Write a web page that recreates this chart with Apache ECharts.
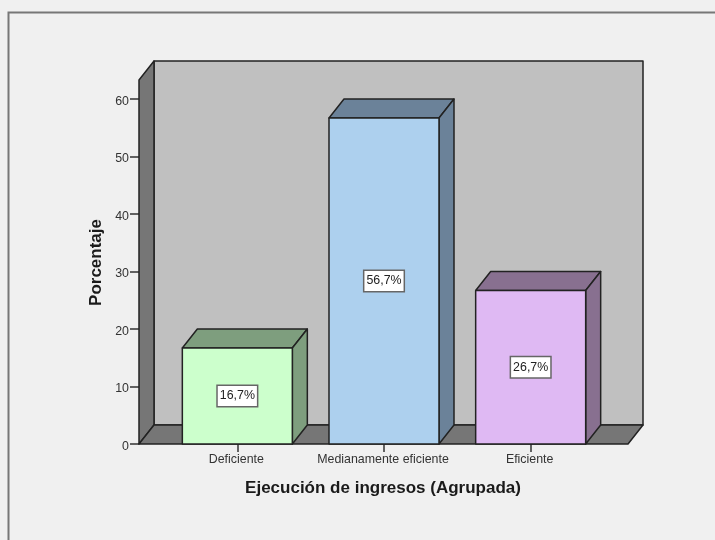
<!DOCTYPE html>
<html>
<head>
<meta charset="utf-8">
<title>Ejecución de ingresos</title>
<script src="https://cdn.jsdelivr.net/npm/echarts@6/dist/echarts.min.js"></script>
<style>
  html, body { margin: 0; padding: 0; background: #f0f0f0; }
  #chart { width: 715px; height: 540px; }
</style>
</head>
<body>
<div id="chart"></div>
<script>
// Porcentaje por nivel de ejecución
const categories = ['Deficiente', 'Medianamente eficiente', 'Eficiente'];
const percentages = [16.7, 56.7, 26.7];
const yTicks = [0, 10, 20, 30, 40, 50, 60];
const frontColors = ['#ccffcc', '#add0ee', '#dfb9f3'];
const shadeColors = ['#7e9e7e', '#6b8299', '#887090'];

// Height of the box around the bars, in percentage units
const boxTop = 63.3;

const depthX = 15;
const depthY = -19;
const outline = '#222222';

const chart = echarts.init(document.getElementById('chart'), null, { renderer: 'canvas' });

const poly = (points, fill) => ({
  type: 'polygon',
  shape: { points },
  style: { fill, stroke: outline, lineWidth: 1.5, lineJoin: 'round' }
});

// Back wall, left wall and floor of the 3D box
function renderBox(params, api) {
  const tl = api.coord([0, boxTop]);
  const bl = api.coord([0, 0]);
  const br = api.coord([1, 0]);
  const shift = (p) => [p[0] + depthX, p[1] + depthY];
  const backTl = shift(tl), backBl = shift(bl), backBr = shift(br);
  const backTr = [backBr[0], backTl[1]];
  return {
    type: 'group',
    children: [
      poly([backTl, backTr, backBr, backBl], '#c0c0c0'),
      poly([tl, backTl, backBl, bl], '#767676'),
      poly([bl, backBl, backBr, br], '#767676')
    ]
  };
}

// Box-shaped bar: top and side faces shaded, front face with the value label
function renderBar(params, api) {
  const i = params.dataIndex;
  const value = api.value(1);
  const center = api.coord([i, value]);
  const base = api.coord([i, 0]);
  const halfWidth = api.size([1, 0])[0] * 0.375;
  const l = center[0] - halfWidth;
  const r = center[0] + halfWidth;
  const t = center[1];
  const b = base[1];
  return {
    type: 'group',
    children: [
      poly([[l, t], [l + depthX, t + depthY], [r + depthX, t + depthY], [r, t]], shadeColors[i]),
      poly([[r, t], [r + depthX, t + depthY], [r + depthX, b + depthY], [r, b]], shadeColors[i]),
      poly([[l, t], [r, t], [r, b], [l, b]], frontColors[i]),
      {
        type: 'text',
        z2: 10,
        x: center[0],
        y: (t + b) / 2,
        style: {
          text: value.toFixed(1).replace('.', ',') + '%',
          fontFamily: 'Liberation Sans',
          fontSize: 12.4,
          fill: '#222222',
          align: 'center',
          verticalAlign: 'middle',
          backgroundColor: '#ffffff',
          borderColor: '#666666',
          borderWidth: 1.5,
          padding: [4, 2, 4, 2]
        }
      }
    ]
  };
}

chart.setOption({
  backgroundColor: '#f0f0f0',
  animation: false,
  graphic: [{
    type: 'rect',
    silent: true,
    shape: { x: 8.5, y: 12.5, width: 740, height: 560 },
    style: { fill: 'transparent', stroke: '#777777', lineWidth: 2 }
  }],
  grid: [
    { left: 139, top: 99, width: 489, height: 345 },
    { left: 164, top: 99, width: 440, height: 345 }
  ],
  xAxis: [{
    gridIndex: 0,
    type: 'value',
    min: 0,
    max: 1,
    show: false
  }, {
    gridIndex: 1,
    type: 'category',
    data: categories,
    boundaryGap: true,
    name: 'Ejecución de ingresos (Agrupada)',
    nameLocation: 'middle',
    nameGap: 36,
    nameTextStyle: { fontFamily: 'Liberation Sans', fontWeight: 'bold', fontSize: 17, color: '#1a1a1a', padding: [0, 2, 0, 0] },
    axisLine: { show: false },
    axisTick: { show: true, alignWithLabel: true, length: 8, lineStyle: { color: '#333333', width: 1.5 } },
    axisLabel: { interval: 0, fontFamily: 'Liberation Sans', fontSize: 12.4, color: '#333333', margin: 10, padding: [0, 2, 0, 0] },
    splitLine: { show: false }
  }],
  yAxis: [{
    gridIndex: 0,
    type: 'value',
    min: yTicks[0],
    max: yTicks[yTicks.length - 1],
    interval: 10,
    name: 'Porcentaje',
    nameLocation: 'middle',
    nameRotate: 90,
    nameGap: 34,
    nameMoveOverlap: false,
    nameTextStyle: { fontFamily: 'Liberation Sans', fontWeight: 'bold', fontSize: 17, color: '#1a1a1a', padding: [0, 0, 0, 18] },
    axisLine: { show: false },
    axisTick: { show: true, length: 9, lineStyle: { color: '#333333', width: 1.5 } },
    axisLabel: { fontFamily: 'Liberation Sans', fontSize: 12.4, color: '#333333', margin: 10, verticalAlign: 'top', lineHeight: 5 },
    splitLine: { show: false }
  }, {
    gridIndex: 1,
    type: 'value',
    min: yTicks[0],
    max: yTicks[yTicks.length - 1],
    show: false
  }],
  series: [{
    type: 'custom',
    name: 'caja',
    xAxisIndex: 0,
    yAxisIndex: 0,
    z: 1,
    silent: true,
    clip: false,
    renderItem: renderBox,
    data: [[0, 0]]
  }, {
    type: 'custom',
    name: 'Porcentaje',
    xAxisIndex: 1,
    yAxisIndex: 1,
    z: 2,
    silent: true,
    clip: false,
    renderItem: renderBar,
    encode: { x: 0, y: 1 },
    data: percentages.map((v, i) => [i, v])
  }]
});
</script>
</body>
</html>
